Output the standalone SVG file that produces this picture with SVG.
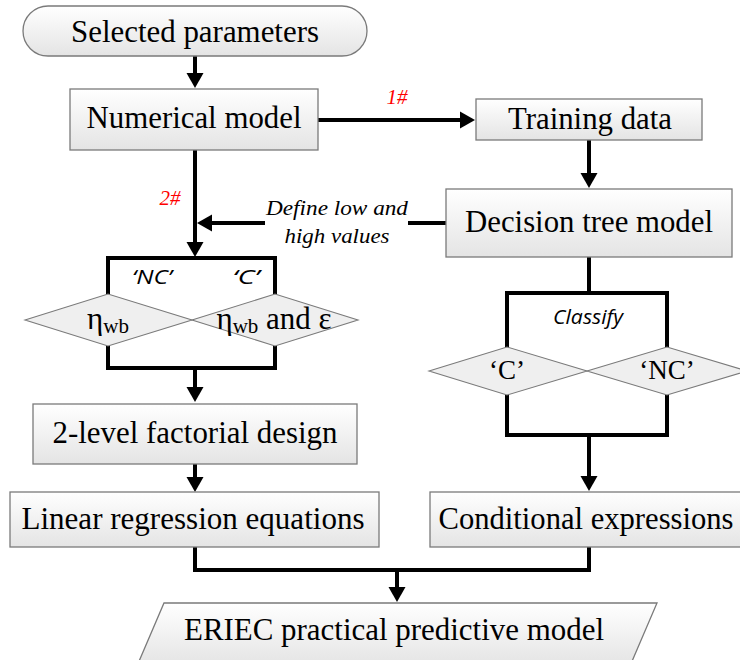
<svg xmlns="http://www.w3.org/2000/svg" width="740" height="660" viewBox="0 0 740 660">
  <defs>
    <linearGradient id="fillGrad" x1="0" y1="0" x2="0" y2="1">
      <stop offset="0" stop-color="#ffffff"/>
      <stop offset="1" stop-color="#e4e4e4"/>
    </linearGradient>
    <marker id="ah" markerUnits="userSpaceOnUse" markerWidth="17" markerHeight="18" viewBox="0 -9 17 18" refX="1" refY="0" orient="auto">
      <path d="M0,-8.5 L15,0 L0,8.5 z" fill="#000"/>
    </marker>
    <style>
      .box { fill: url(#fillGrad); stroke: #7a7a7a; stroke-width: 1.3; }
      .dia { fill: #efefef; stroke: #7a7a7a; stroke-width: 1.1; }
      .lbl { font-family: 'Liberation Serif', 'Times New Roman', serif; font-size: 31px; fill: #000; text-anchor: middle; }
      .q { font-family: 'Liberation Serif', 'Times New Roman', serif; font-size: 27px; fill: #000; text-anchor: middle; }
      .note { font-family: 'Liberation Serif', 'Times New Roman', serif; font-style: italic; font-size: 21px; fill: #000; text-anchor: middle; }
      .tag { font-family: 'Liberation Serif', 'Times New Roman', serif; font-style: italic; font-size: 21px; fill: #ff0000; text-anchor: middle; }
      .sans { font-family: 'Open Sans', 'Liberation Sans', sans-serif; font-style: italic; font-size: 20px; fill: #000; text-anchor: middle; }
      .wire { fill: none; stroke: #000; stroke-width: 4; stroke-linejoin: miter; stroke-linecap: butt; }
      .arrow { fill: none; stroke: #000; stroke-width: 4; marker-end: url(#ah); }
    </style>
  </defs>

  <!-- connectors -->
  <g id="connectors">
    <line class="arrow" x1="195" y1="56" x2="195" y2="74"/>
    <line class="arrow" x1="318" y1="120" x2="461" y2="120"/>
    <line class="arrow" x1="589" y1="140" x2="589" y2="174"/>
    <line class="wire" x1="446" y1="223" x2="408" y2="223"/>
    <line class="arrow" x1="265" y1="223" x2="211" y2="223"/>
    <line class="arrow" x1="195" y1="150" x2="195" y2="243"/>
    <polyline class="wire" points="108,294 108,258 275,258 275,294"/>
    <polyline class="wire" points="108,346 108,368 275,368 275,346"/>
    <line class="arrow" x1="195" y1="368" x2="195" y2="388"/>
    <line class="arrow" x1="195" y1="464" x2="195" y2="478"/>
    <line class="wire" x1="589" y1="257" x2="589" y2="293"/>
    <polyline class="wire" points="507,347 507,293 667,293 667,347"/>
    <polyline class="wire" points="507,395 507,435 667,435 667,395"/>
    <line class="arrow" x1="589" y1="435" x2="589" y2="477"/>
    <polyline class="wire" points="195,547 195,570 589,570 589,547"/>
    <line class="arrow" x1="397" y1="570" x2="397" y2="588"/>
  </g>

  <!-- connector labels -->
  <g id="connector-labels">
    <text class="tag" x="397" y="104">1#</text>
    <text class="tag" x="170" y="205">2#</text>
    <text class="note" x="337" y="215" textLength="142" lengthAdjust="spacingAndGlyphs">Define low and</text>
    <text class="note" x="337" y="243" textLength="105" lengthAdjust="spacingAndGlyphs">high values</text>
    <text class="sans" x="152" y="284" textLength="40" lengthAdjust="spacingAndGlyphs">‘NC’</text>
    <text class="sans" x="246" y="284" textLength="27" lengthAdjust="spacingAndGlyphs">‘C’</text>
    <text class="sans" x="588" y="324" textLength="70" lengthAdjust="spacingAndGlyphs">Classify</text>
  </g>

  <g id="selected-parameters">
    <rect class="box" x="23" y="6" width="344" height="50" rx="25" ry="25"/>
    <text class="lbl" x="195" y="42" textLength="248" lengthAdjust="spacingAndGlyphs">Selected parameters</text>
  </g>

  <g id="numerical-model">
    <rect class="box" x="70" y="89" width="248" height="61"/>
    <text class="lbl" x="194" y="128" textLength="215" lengthAdjust="spacingAndGlyphs">Numerical model</text>
  </g>

  <g id="training-data">
    <rect class="box" x="476" y="99" width="226" height="41"/>
    <text class="lbl" x="590" y="129" textLength="164" lengthAdjust="spacingAndGlyphs">Training data</text>
  </g>

  <g id="decision-tree-model">
    <rect class="box" x="446" y="189" width="286" height="68"/>
    <text class="lbl" x="589" y="232" textLength="248" lengthAdjust="spacingAndGlyphs">Decision tree model</text>
  </g>

  <g id="choice-nc">
    <polygon class="dia" points="25,320 108,294 192,320 108,346"/>
    <text class="lbl" x="108" y="329">η<tspan font-size="21" dy="4">wb</tspan></text>
  </g>

  <g id="choice-c">
    <polygon class="dia" points="192,320 275,294 358,320 275,346"/>
    <text class="lbl" x="274" y="329">η<tspan font-size="21" dy="4">wb</tspan><tspan dy="-4"> and ε</tspan></text>
  </g>

  <g id="class-c">
    <polygon class="dia" points="429,371 507,347 587,371 507,395"/>
    <text class="q" x="507" y="379">‘C’</text>
  </g>

  <g id="class-nc">
    <polygon class="dia" points="587,371 667,347 747,371 667,395"/>
    <text class="q" x="667" y="379">‘NC’</text>
  </g>

  <g id="factorial-design">
    <rect class="box" x="33" y="404" width="324" height="60"/>
    <text class="lbl" x="195" y="443" textLength="285" lengthAdjust="spacingAndGlyphs">2-level factorial design</text>
  </g>

  <g id="linear-regression">
    <rect class="box" x="10" y="492" width="369" height="55"/>
    <text class="lbl" x="193" y="529" textLength="343" lengthAdjust="spacingAndGlyphs">Linear regression equations</text>
  </g>

  <g id="conditional-expressions">
    <rect class="box" x="430" y="492" width="312" height="55"/>
    <text class="lbl" x="586" y="529" textLength="295" lengthAdjust="spacingAndGlyphs">Conditional expressions</text>
  </g>

  <g id="practical-model">
    <polygon class="box" points="164,603 657,603 630,666 137,666"/>
    <text class="lbl" x="394" y="640" textLength="420" lengthAdjust="spacingAndGlyphs">ERIEC practical predictive model</text>
  </g>
</svg>
